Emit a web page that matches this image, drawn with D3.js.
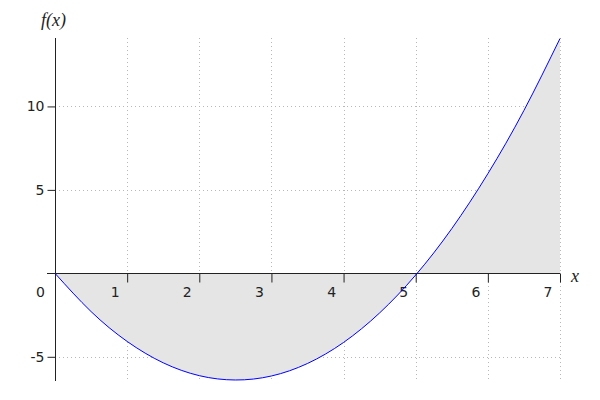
<!DOCTYPE html>
<html>
<head>
<meta charset="utf-8">
<script src="https://cdn.jsdelivr.net/npm/d3@7"></script>
<style>
body{margin:0;background:#fff;}
svg{display:block;}
</style>
</head>
<body>
<svg id="chart" width="600" height="400"></svg>
<script>
// Data
const xValues = [0, 0.5, 1, 1.5, 2, 2.5, 3, 3.5, 4, 4.5, 5, 5.5, 6, 6.5, 7];
const yValues = [0, -2.29, -4.08, -5.36, -6.13, -6.39, -6.15, -5.40, -4.14, -2.37, -0.10, 2.68, 5.97, 9.76, 14.07];
const xTicks = [1, 2, 3, 4, 5, 6, 7];
const yTicks = [-5, 5, 10];
const xDomain = [0, 7];
const yDomain = [-6.45, 14.1];

const points = xValues.map((x, i) => ({x, y: yValues[i]}));
const fmt = d => String(d);

const svg = d3.select("#chart");
const x = d3.scaleLinear().domain(xDomain).range([55, 560]);
const y = d3.scaleLinear().domain(yDomain).range([381, 38]);

// grid
const grid = svg.append("g").attr("stroke", "#b8b8b8").attr("stroke-width", 1).attr("stroke-dasharray", "1,3");
grid.selectAll(".vg").data(xTicks).enter().append("line")
  .attr("x1", d => Math.round(x(d)) + 0.5).attr("x2", d => Math.round(x(d)) + 0.5)
  .attr("y1", y.range()[1]).attr("y2", y.range()[0]);
grid.selectAll(".hg").data(yTicks).enter().append("line")
  .attr("y1", d => Math.round(y(d)) + 0.5).attr("y2", d => Math.round(y(d)) + 0.5)
  .attr("x1", x.range()[0]).attr("x2", x.range()[1]);

// area
const area = d3.area().x(d => x(d.x)).y0(y(0)).y1(d => y(d.y)).curve(d3.curveNatural);
svg.append("path").datum(points).attr("d", area).attr("fill", "#e5e5e5");

// axes
const y0 = Math.round(y(0)) + 0.5;
const xAxis = d3.axisBottom(x).tickValues(xTicks).tickSize(9).tickFormat(fmt);
const gx = svg.append("g").attr("transform", `translate(0,${y0})`).call(xAxis);
gx.select(".domain").remove();
gx.append("line").attr("x1", 47).attr("x2", x.range()[1]).attr("stroke", "#222");
gx.selectAll(".tick line").attr("stroke", "#222");
gx.selectAll(".tick text").attr("fill", "#222").attr("font-family", "DejaVu Sans").attr("font-size", 14)
  .attr("text-anchor", "end").attr("x", -8).attr("y", 14).attr("dy", "0.71em");

const yAxis = d3.axisLeft(y).tickValues(yTicks).tickSize(8).tickPadding(3).tickFormat(fmt);
const gy = svg.append("g").attr("transform", `translate(${Math.round(x(0)) + 0.5},0)`).call(yAxis);
gy.select(".domain").remove();
gy.append("line").attr("y1", y.range()[1]).attr("y2", y.range()[0]).attr("stroke", "#222");
gy.selectAll(".tick line").attr("stroke", "#222");
gy.selectAll(".tick text").attr("fill", "#222").attr("font-family", "DejaVu Sans").attr("font-size", 14);

// zero label
svg.append("text").attr("x", 45).attr("y", y0 + 14).attr("dy", "0.71em").attr("text-anchor", "end")
  .attr("font-family", "DejaVu Sans").attr("font-size", 14).attr("fill", "#222").text("0");

// line
const line = d3.line().x(d => x(d.x)).y(d => y(d.y)).curve(d3.curveNatural);
svg.append("path").datum(points).attr("d", line).attr("fill", "none").attr("stroke", "#0000ff").attr("stroke-width", 1);

// axis titles
svg.append("text").attr("x", 41).attr("y", 26).attr("font-family", "Liberation Serif").attr("font-style", "italic")
  .attr("font-size", 18).attr("fill", "#222").text("f(x)");
svg.append("text").attr("x", 571).attr("y", 282).attr("font-family", "Liberation Serif").attr("font-style", "italic")
  .attr("font-size", 18).attr("fill", "#222").text("x");
</script>
</body>
</html>
